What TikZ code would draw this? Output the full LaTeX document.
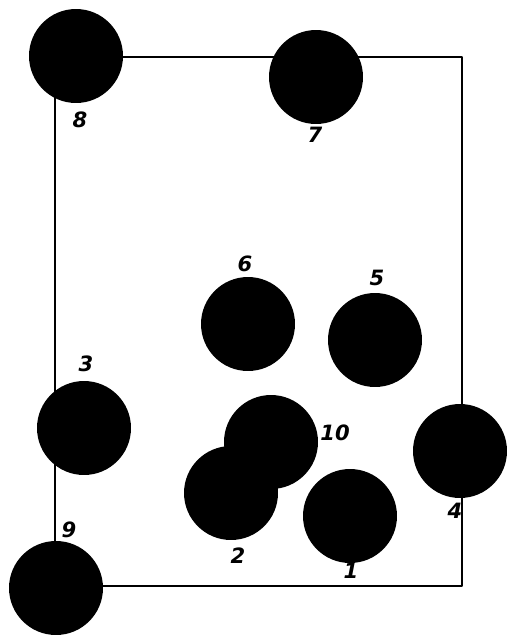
\documentclass[tikz,border=0pt]{standalone}
\usepackage{fontspec}
\setsansfont{DejaVu Sans}
\begin{document}
\begin{tikzpicture}[x=0.02cm,y=-0.02cm,line join=round, line cap=round]
		\tikzset{ball/.style={circle,fill=black,minimum size=1.88cm,inner sep=0pt},
			num/.style={font=\large\sffamily\bfseries\itshape,inner sep=1pt}}
		\useasboundingbox (0,0) rectangle (508,636);
		% frame
		\coordinate (tl) at (55,57);
		\coordinate (tr) at (462,57);
		\coordinate (br) at (462,586);
		\coordinate (bl) at (55,586);
		\draw[line width=1.6pt] (tl)--(tr)--(br)--(bl)--cycle;
		% balls
		\node[ball] (b1) at (350,516) {};
		\node[ball] (b2) at (231,493) {};
		\node[ball] (b10) at (271,442) {};
		\node[ball] (b3) at (84,428) {};
		\node[ball] (b4) at (460,451) {};
		\node[ball] (b5) at (375,340) {};
		\node[ball] (b6) at (248,324) {};
		\node[ball] (b7) at (316,77) {};
		\node[ball] (b8) at (76,56) {};
		\node[ball] (b9) at (56,588) {};
		% numbers
		\node[num] (n1) at (351,571) {1};
		\node[num] (n2) at (238,556) {2};
		\node[num] (n3) at (86,364) {3};
		\node[num] (n4) at (455,511) {4};
		\node[num] (n5) at (377,278) {5};
		\node[num] (n6) at (245,264) {6};
		\node[num] (n7) at (315,135) {7};
		\node[num] (n8) at (80,120) {8};
		\node[num] (n9) at (69,530) {9};
		\node[num] (n10) at (335,433) {10};
\end{tikzpicture}
\end{document}
